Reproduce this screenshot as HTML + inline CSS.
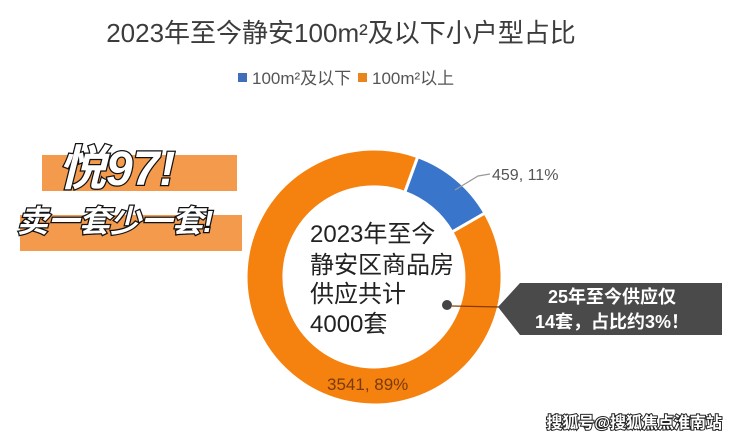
<!DOCTYPE html>
<html><head><meta charset="utf-8"><style>
html,body{margin:0;padding:0;background:#fff;}
body{width:740px;height:443px;overflow:hidden;position:relative;font-family:"Liberation Sans","Noto Sans CJK SC",sans-serif;}
</style></head><body>
<svg width="740" height="443" viewBox="0 0 740 443" xmlns="http://www.w3.org/2000/svg" style="position:absolute;left:0;top:0">
<text x="341" y="42" text-anchor="middle" font-size="26" fill="#3c3c3c" font-family="Liberation Sans,Noto Sans CJK SC,sans-serif">2023年至今静安100m²及以下小户型占比</text>
<rect x="238" y="73" width="9" height="9" fill="#3f6fb8"/>
<text x="252" y="84" font-size="17" fill="#555" font-family="Liberation Sans,Noto Sans CJK SC,sans-serif">100m²及以下</text>
<rect x="358" y="73" width="9" height="9" fill="#e8861d"/>
<text x="372" y="84" font-size="17" fill="#555" font-family="Liberation Sans,Noto Sans CJK SC,sans-serif">100m²以上</text>
<path d="M484.9,213 A128,128 0 1 1 417.8,156.7 L404.8,192.4 A90,90 0 1 0 451.9,232 Z" fill="#f5820f" stroke="#fff" stroke-width="3"/>
<path d="M417.8,156.7 A128,128 0 0 1 484.9,213 L451.9,232 A90,90 0 0 0 404.8,192.4 Z" fill="#3a75cc" stroke="#fff" stroke-width="3"/>
<polyline points="455,190 478,176 490,174" fill="none" stroke="#999" stroke-width="1.2"/>
<text x="492" y="180" font-size="16" fill="#555" font-family="Liberation Sans,sans-serif">459, 11%</text>
<text x="327" y="390" font-size="17" fill="#7a3a0a" font-family="Liberation Sans,sans-serif">3541, 89%</text>
<g font-size="24" fill="#222" font-family="Liberation Sans,Noto Sans CJK SC,sans-serif">
<text x="310" y="242">2023年至今</text>
<text x="310" y="273">静安区商品房</text>
<text x="310" y="302">供应共计</text>
<text x="310" y="332">4000套</text>
</g>
<circle cx="447" cy="305" r="5" fill="#444"/>
<line x1="452" y1="306" x2="500" y2="307" stroke="#8a3a00" stroke-width="1.2"/>
<polygon points="498,307 520,283 722,283 722,335 520,335" fill="#4a4a4a"/>
<g font-size="18" font-weight="bold" fill="#fff" text-anchor="middle" font-family="Liberation Sans,Noto Sans CJK SC,sans-serif">
<text x="612" y="303">25年至今供应仅</text>
<text x="612" y="328">14套，占比约3%！</text>
</g>
<rect x="42" y="155" width="195" height="36" fill="#f39a4c"/>
<rect x="20" y="215" width="222" height="36" fill="#f39a4c"/>
<g font-style="italic" font-weight="bold" fill="#fff" stroke="#111" stroke-width="2.5" paint-order="stroke" font-family="Liberation Sans,Noto Sans CJK SC,sans-serif">
<text x="58" y="185" font-size="48">悦97!</text>
<text x="17" y="232" font-size="31">卖一套少一套!</text>
</g>
<text x="722" y="428" text-anchor="end" font-size="16" font-weight="bold" fill="#fff" stroke="#222" stroke-width="2" paint-order="stroke" font-family="Liberation Sans,Noto Sans CJK SC,sans-serif">搜狐号@搜狐焦点淮南站</text>
</svg>
</body></html>
